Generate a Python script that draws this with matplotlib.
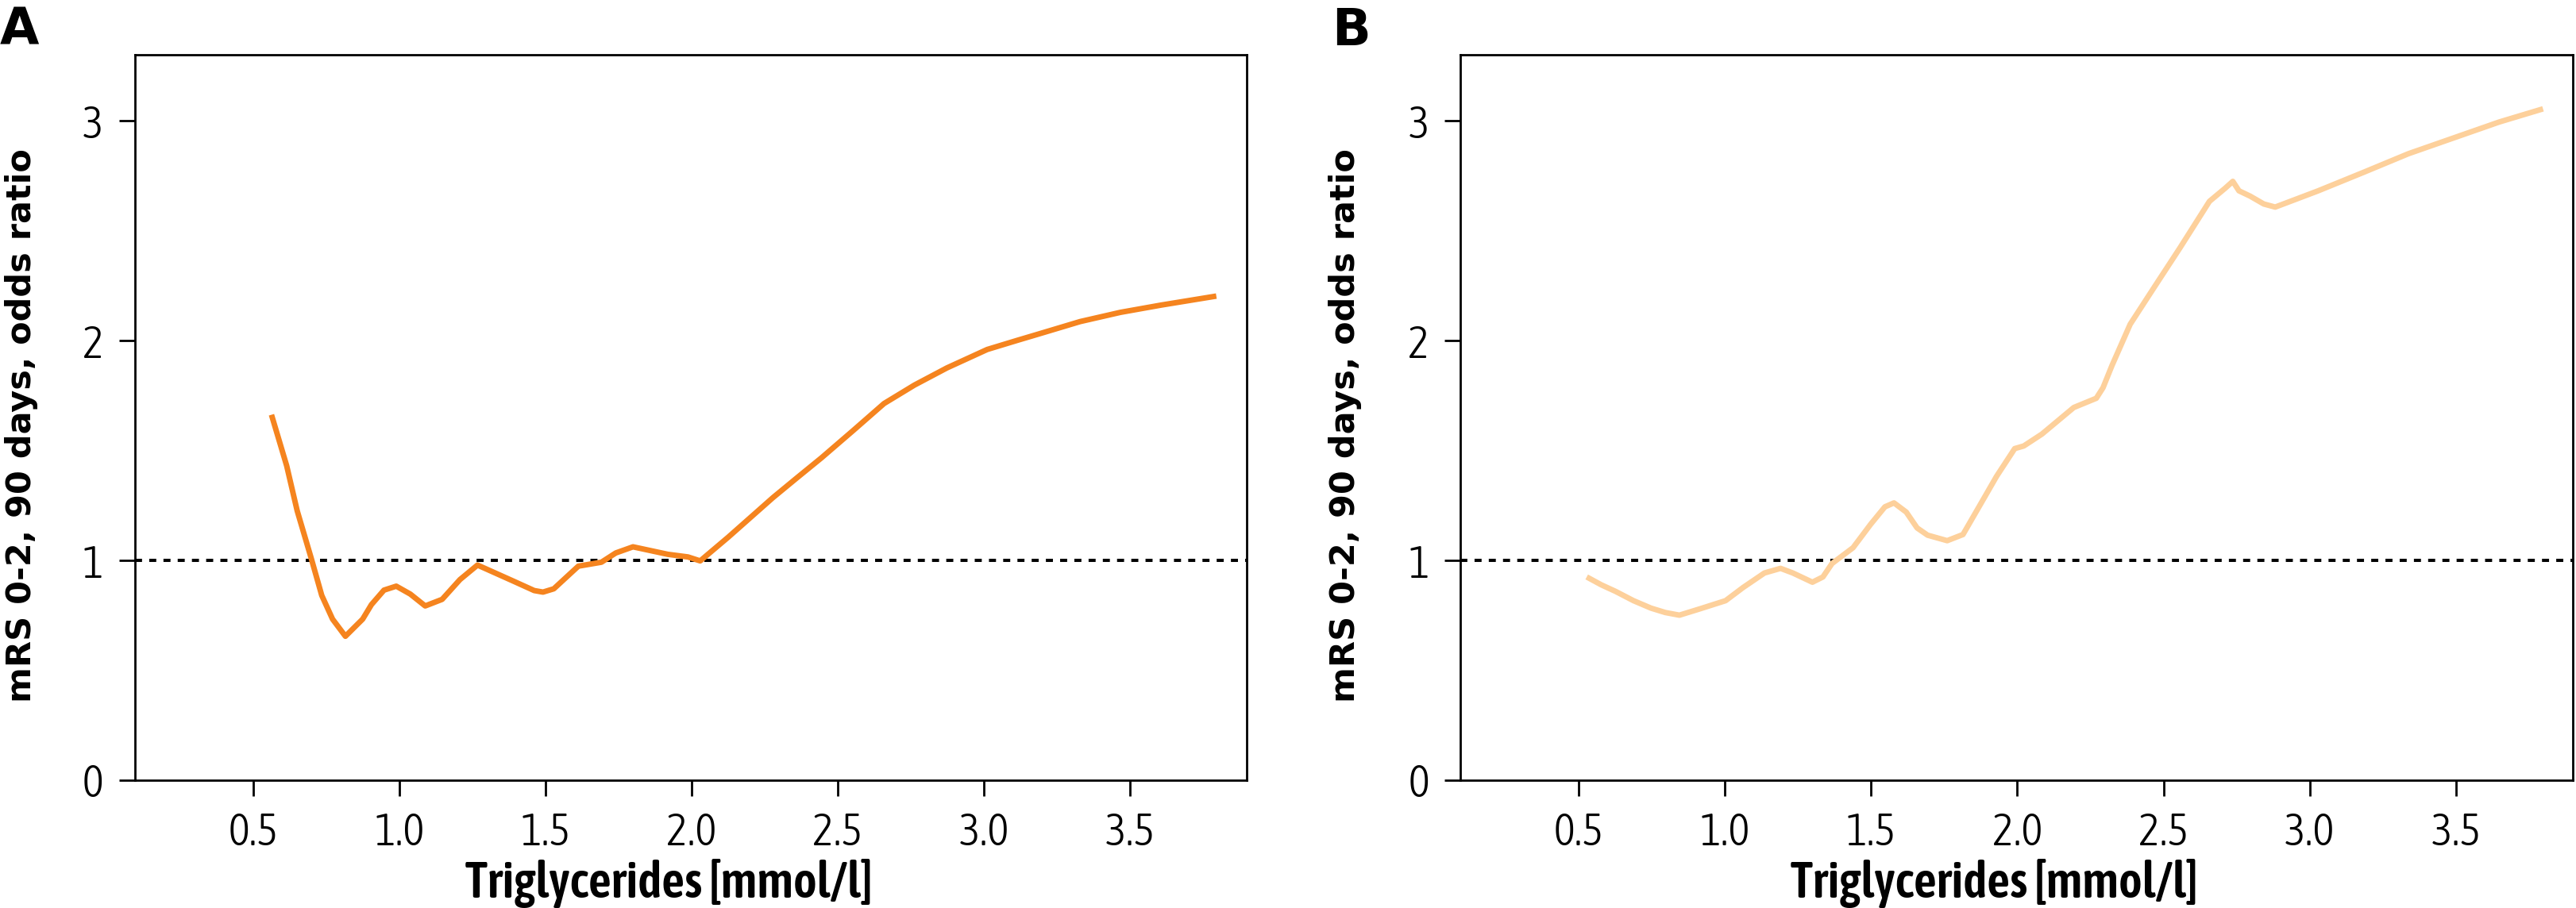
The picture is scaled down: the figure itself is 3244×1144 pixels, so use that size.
import matplotlib
matplotlib.use("Agg")
import matplotlib.pyplot as plt
from matplotlib import font_manager as fm

# ---- data ----
A_x = [0.563, 0.615, 0.651, 0.699, 0.735, 0.772, 0.816, 0.875, 0.905, 0.948, 0.990,
       1.038, 1.089, 1.147, 1.208, 1.268, 1.389, 1.462, 1.492, 1.529, 1.613, 1.692,
       1.741, 1.800, 1.919, 1.988, 2.030, 2.126, 2.279, 2.362, 2.445, 2.555, 2.659,
       2.763, 2.874, 3.012, 3.116, 3.192, 3.330, 3.468, 3.607, 3.796]
A_y = [1.663, 1.431, 1.226, 1.010, 0.841, 0.733, 0.655, 0.733, 0.799, 0.865, 0.883,
       0.847, 0.793, 0.823, 0.913, 0.979, 0.907, 0.863, 0.856, 0.871, 0.974, 0.992,
       1.034, 1.062, 1.028, 1.016, 0.998, 1.106, 1.286, 1.377, 1.467, 1.593, 1.714,
       1.798, 1.876, 1.960, 2.002, 2.032, 2.087, 2.129, 2.162, 2.203]

B_x = [0.527, 0.577, 0.626, 0.687, 0.747, 0.796, 0.844, 0.917, 1.002, 1.062, 1.135,
       1.190, 1.232, 1.299, 1.335, 1.366, 1.438, 1.499, 1.547, 1.578, 1.620, 1.657,
       1.693, 1.760, 1.814, 1.887, 1.929, 1.991, 2.022, 2.084, 2.193, 2.270, 2.293,
       2.324, 2.386, 2.471, 2.557, 2.657, 2.711, 2.737, 2.758, 2.796, 2.843, 2.882,
       3.029, 3.184, 3.338, 3.493, 3.648, 3.798]
B_y = [0.925, 0.889, 0.859, 0.817, 0.783, 0.763, 0.751, 0.781, 0.817, 0.877, 0.943,
       0.964, 0.943, 0.901, 0.925, 0.986, 1.058, 1.166, 1.244, 1.262, 1.220, 1.148,
       1.115, 1.090, 1.118, 1.286, 1.383, 1.509, 1.521, 1.575, 1.696, 1.738, 1.786,
       1.888, 2.075, 2.249, 2.424, 2.634, 2.694, 2.725, 2.682, 2.658, 2.622, 2.608,
       2.682, 2.766, 2.851, 2.923, 2.995, 3.055]

x_ticks = [0.5, 1.0, 1.5, 2.0, 2.5, 3.0, 3.5]
x_tick_labels = ["0.5", "1.0", "1.5", "2.0", "2.5", "3.0", "3.5"]
y_ticks = [0, 1, 2, 3]
y_tick_labels = ["0", "1", "2", "3"]
panel_labels = ["A", "B"]
x_label = "Triglycerides [mmol/l]"
y_label = "mRS 0-2, 90 days, odds ratio"
reference_value = 1.0

colors = ["#F5841F", "#FDD09B"]


# ---- font selection (condensed / light faces if installed) ----
def _w(f):
    w = f.weight
    if isinstance(w, str):
        w = {"light": 300, "normal": 400, "regular": 400, "book": 400,
             "medium": 500, "semibold": 600, "demibold": 600, "bold": 700}.get(w, 400)
    return w


def _cond(f):
    s = str(f.stretch).lower()
    n = (f.name + " " + f.fname).lower()
    return ("condensed" in s or "narrow" in s or "condensed" in n or "narrow" in n) \
        and "extra" not in s and "ultra" not in s


fonts = [f for f in fm.fontManager.ttflist
         if f.style == "normal" and f.fname.lower().endswith((".ttf", ".otf"))]


def pick(target_w, prefer_cond=True):
    best, score = None, 1e9
    for f in fonts:
        sc = abs(_w(f) - target_w)
        nm = f.name.lower()
        if prefer_cond and not _cond(f):
            sc += 1000
        if "mono" in nm or ("serif" in nm and "sans" not in nm):
            sc += 5000
        if "cjk" in nm or "math" in nm:
            sc += 5000
        if sc < score:
            best, score = f, sc
    return fm.FontProperties(fname=best.fname) if best else fm.FontProperties(family="DejaVu Sans")


tick_fp = pick(300, True)
xlab_fp = pick(600, True)
ylab_fp = fm.FontProperties(family="DejaVu Sans", weight="bold")

W, H = 3244, 1144
dpi = 200
fig = plt.figure(figsize=(W / dpi, H / dpi), dpi=dpi)

ax_rects = [
    [170 / W, (H - 983) / H, 1400 / W, (983 - 69.3) / H],
    [1839.5 / W, (H - 983) / H, 1400.5 / W, (983 - 69.3) / H],
]
series = [(A_x, A_y), (B_x, B_y)]
label_pos = [(0.0 / W, 1 - 8 / H), (1677 / W, 1 - 8 / H)]

axes = []
for i, rect in enumerate(ax_rects):
    ax = fig.add_axes(rect)
    axes.append(ax)
    xs, ys = series[i]
    ax.axhline(reference_value, color="black", lw=1.45,
               linestyle=(0, (2.2, 2.25)), zorder=1)
    ax.plot(xs, ys, color=colors[i], lw=2.5, solid_capstyle="butt",
            solid_joinstyle="round", zorder=2)
    ax.set_xlim(0.096, 3.9)
    ax.set_ylim(0, 3.3)
    ax.set_xticks(x_ticks)
    ax.set_xticklabels(x_tick_labels)
    ax.set_yticks(y_ticks)
    ax.set_yticklabels(y_tick_labels)
    for sp in ax.spines.values():
        sp.set_linewidth(1.0)
        sp.set_color("black")
    ax.tick_params(direction="out", length=7.2, width=1.0, pad=7, colors="black")
    for lab in ax.get_xticklabels() + ax.get_yticklabels():
        lab.set_fontproperties(tick_fp)
        lab.set_fontsize(18.5)
    ax.set_xlabel(x_label, fontproperties=xlab_fp)
    ax.xaxis.label.set_fontsize(19)
    ax.xaxis.set_label_coords(0.48, -0.108)
    ax.set_ylabel(y_label, fontproperties=ylab_fp)
    ax.yaxis.label.set_fontsize(15.5)
    ax.yaxis.set_label_coords(-0.087 if i == 0 else -0.089, 0.489)
    fig.text(label_pos[i][0], label_pos[i][1], panel_labels[i], fontsize=23,
             fontweight="bold", family=["DejaVu Sans"], ha="left", va="top")

# keep text widths close to the reference (x label ~520 px, "0.5" ~65 px)
fig.canvas.draw()
r = fig.canvas.get_renderer()
for ax in axes:
    wpx = ax.xaxis.label.get_window_extent(r).width
    if wpx > 0:
        ax.xaxis.label.set_fontsize(19 * min(1.2, max(0.8, 520.0 / wpx)))
    wt = ax.get_xticklabels()[0].get_window_extent(r).width
    if wt > 0:
        s = 18.5 * min(1.1, max(0.85, 65.0 / wt))
        for lab in ax.get_xticklabels() + ax.get_yticklabels():
            lab.set_fontsize(s)

fig.savefig("out.png", dpi=dpi)
